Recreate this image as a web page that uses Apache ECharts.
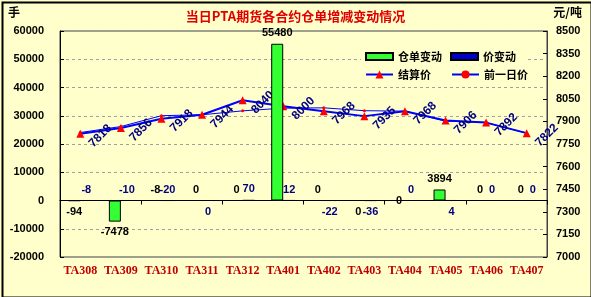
<!DOCTYPE html>
<html>
<head>
<meta charset="utf-8">
<script src="https://cdn.jsdelivr.net/npm/echarts@6/dist/echarts.min.js"></script>
<style>
html,body{margin:0;padding:0;background:#FFFFCC;}
#c{width:591px;height:297px;}
</style>
</head>
<body>
<div id="c"></div>
<script>
// ---- data ----
const categories = ['TA308','TA309','TA310','TA311','TA312','TA401','TA402','TA403','TA404','TA405','TA406','TA407'];
const stockChange = [-94, -7478, -8, 0, 0, 55480, 0, 0, 0, 3894, 0, 0];      // 仓单变动
const priceChange = [-8, -10, -20, 0, 70, 12, -22, -36, 0, 4, 0, 0];          // 价变动
const settlePrice = [7818, 7856, 7918, 7944, 8040, 8000, 7968, 7935, 7968, 7906, 7892, 7822]; // 结算价
const prevPrice   = [7826, 7866, 7938, 7944, 7970, 7988, 7990, 7971, 7968, 7902, 7892, 7822]; // 前一日价
const leftTicks  = [-20000, -10000, 0, 10000, 20000, 30000, 40000, 50000, 60000];
const rightTicks = [7000, 7150, 7300, 7450, 7600, 7750, 7900, 8050, 8200, 8350, 8500];

// label placement (style only)
const stockLabelSide = ['bottom','bottom','top','top','top','top','top','bottom','inside','top','top','top'];
const priceLabelSide = ['top','top','top','bottom','top','top','bottom','bottom','top','bottom','top','top'];

const BG = '#FFFFCC';
const chart = echarts.init(document.getElementById('c'), null, {renderer: 'canvas'});

const numFont = {fontFamily: 'Liberation Sans', fontWeight: 'bold', fontSize: 11};
const plain = v => String(v);

const stockData = stockChange.map((v, i) => ({
  value: v,
  label: {position: stockLabelSide[i]}
}));
const priceData = priceChange.map((v, i) => ({
  value: v,
  label: {position: priceLabelSide[i]}
}));

const option = {
  backgroundColor: BG,
  animation: false,
  title: {
    text: '当日PTA期货各合约仓单增减变动情况',
    left: 'center',
    top: 5,
    textStyle: {color: '#E00000', fontSize: 13, fontWeight: 'bold', fontFamily: 'Noto Sans CJK SC'}
  },
  graphic: [
    {type: 'rect', left: 0, top: 0, z: 100, silent: true,
     shape: {x: 1, y: 1, width: 589, height: 295},
     style: {fill: null, stroke: '#000', lineWidth: 2}},
    {type: 'text', left: 8, top: 6, z: 10,
     style: {text: '手', fill: '#000', font: 'bold 12px "Noto Sans CJK SC"'}},
    {type: 'text', right: 9, top: 6, z: 10,
     style: {text: '元/吨', fill: '#000', font: 'bold 12px "Noto Sans CJK SC"'}},
    {type: 'rect', left: 361, top: 48, z: 3, silent: true,
     shape: {width: 166, height: 37}, style: {fill: BG}}
  ],
  legend: [
    {
      data: ['仓单变动', '价变动'],
      left: 365, top: 51, padding: 0,
      itemWidth: 27, itemHeight: 7, itemGap: 8, icon: 'rect',
      textStyle: {color: '#000', fontSize: 11, fontWeight: 'bold', fontFamily: 'Noto Sans CJK SC'},
      selectedMode: false, z: 5
    },
    {
      data: ['结算价', '前一日价'],
      left: 365, top: 69, padding: 0,
      itemWidth: 27, itemHeight: 10, itemGap: 20,
      textStyle: {color: '#000', fontSize: 11, fontWeight: 'bold', fontFamily: 'Noto Sans CJK SC'},
      selectedMode: false, z: 5
    }
  ],
  grid: {
    left: 60, right: 44, top: 31, bottom: 40,
    show: true, borderColor: '#404040', borderWidth: 1, backgroundColor: 'transparent'
  },
  xAxis: [
    {
      type: 'category', data: categories, position: 'bottom',
      axisLine: {show: false, onZero: false},
      axisTick: {show: false},
      axisLabel: {color: '#C00000', fontFamily: 'Liberation Serif', fontWeight: 'bold', fontSize: 12, margin: 8, interval: 0},
      splitLine: {show: false}
    },
    {
      type: 'category', data: categories, position: 'top',
      axisLine: {show: true, onZero: true, onZeroAxisIndex: 0, lineStyle: {color: '#000', width: 1}},
      axisTick: {show: true, inside: true, length: 4, lineStyle: {color: '#000'}},
      axisLabel: {show: false},
      splitLine: {show: false}
    }
  ],
  yAxis: [
    {
      type: 'value', min: leftTicks[0], max: leftTicks[leftTicks.length - 1], interval: 10000,
      position: 'left',
      axisLine: {show: true, lineStyle: {color: '#000'}},
      axisTick: {show: true, inside: true, length: 4, lineStyle: {color: '#000'}},
      axisLabel: Object.assign({color: '#000', margin: 16, customValues: leftTicks, formatter: plain}, numFont),
      splitLine: {show: true, lineStyle: {color: '#A0A0A0', type: [3, 3], width: 1}}
    },
    {
      type: 'value', min: rightTicks[0], max: rightTicks[rightTicks.length - 1],
      position: 'right',
      axisLine: {show: true, lineStyle: {color: '#404040'}},
      axisTick: {show: true, inside: true, length: 4, lineStyle: {color: '#000'}, customValues: rightTicks},
      axisLabel: Object.assign({color: '#000', margin: 9, customValues: rightTicks, formatter: plain}, numFont),
      splitLine: {show: false}
    }
  ],
  series: [
    {
      name: '仓单变动', type: 'bar', xAxisIndex: 0, yAxisIndex: 0, z: 3,
      data: stockData,
      barWidth: 12, barGap: '0%',
      itemStyle: {color: '#33FF33', borderColor: '#000', borderWidth: 1},
      label: Object.assign({show: true, color: '#000', distance: 5}, numFont)
    },
    {
      name: '价变动', type: 'bar', xAxisIndex: 0, yAxisIndex: 0, z: 3,
      data: priceData,
      barWidth: 12, barGap: '0%',
      itemStyle: {color: '#0000CC', borderColor: '#000', borderWidth: 1},
      label: Object.assign({show: true, color: '#000080', distance: 5}, numFont)
    },
    {
      name: '结算价', type: 'line', xAxisIndex: 0, yAxisIndex: 1, z: 2,
      data: settlePrice,
      symbol: 'triangle', symbolSize: 8,
      lineStyle: {color: '#0000FF', width: 2},
      itemStyle: {color: '#FF0000'},
      label: {
        show: true, position: 'right', distance: 14, rotate: 45,
        align: 'center', verticalAlign: 'middle', offset: [0, 3],
        color: '#000080', fontFamily: 'Liberation Sans', fontWeight: 'bold', fontSize: 12
      }
    },
    {
      name: '前一日价', type: 'line', xAxisIndex: 0, yAxisIndex: 1, z: 2,
      data: prevPrice,
      symbol: 'circle', symbolSize: 3,
      lineStyle: {color: '#0000FF', width: 1},
      itemStyle: {color: '#FF0000'}
    }
  ]
};
chart.setOption(option);
</script>
</body>
</html>
